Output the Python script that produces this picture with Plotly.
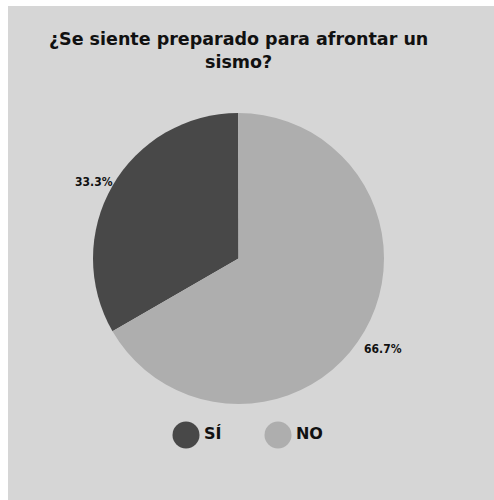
import math
import plotly.graph_objects as go

# Survey answers and their shares
categories = ["SÍ", "NO"]
shares = [33.3, 66.7]
slice_colors = ["#484848", "#aeaeae"]

title_text = "¿Se siente preparado para afrontar un<br>sismo?"

W, H = 494, 500
bg = "#d6d6d6"

# pie geometry in pixels
pie_left, pie_right, pie_top, pie_bottom = 93, 384, 113, 404
cx = (pie_left + pie_right) / 2
cy = (pie_top + pie_bottom) / 2
radius = (pie_right - pie_left) / 2
label_gap = 22

fig = go.Figure()

fig.add_trace(go.Pie(
    labels=categories,
    values=shares,
    sort=False,
    direction="counterclockwise",
    rotation=-120,
    marker=dict(colors=slice_colors, line=dict(width=0)),
    textinfo="none",
    domain=dict(x=[pie_left / W, pie_right / W], y=[1 - pie_bottom / H, 1 - pie_top / H]),
    showlegend=False,
    hoverinfo="label+percent",
))

# Percentage labels placed radially outside each slice's mid-angle
annotations = []
total = sum(shares)
cum = 0.0
for val in shares:
    mid = (cum + val / 2) / total * 2 * math.pi  # counterclockwise from 12 o'clock
    cum += val
    d = radius + label_gap
    px = cx - d * math.sin(mid)
    py = cy - d * math.cos(mid)
    annotations.append(dict(
        x=px / W, y=1 - py / H, xref="paper", yref="paper",
        text=f"{val:.1f}%", showarrow=False,
        xanchor="center", yanchor="middle", yshift=-7,
        font=dict(family="Liberation Sans Narrow, DejaVu Sans Condensed, sans-serif",
                  size=12, color="#111111", weight="bold"),
    ))

# Custom legend: large circular swatches with bold labels
legend_y = [0.5, 0.5]
fig.add_trace(go.Scatter(
    x=categories,
    y=legend_y,
    mode="markers+text",
    marker=dict(size=27, color=slice_colors, symbol="circle"),
    text=categories,
    textposition="middle right",
    textfont=dict(family="DejaVu Sans, sans-serif", size=16, color="#111111", weight="bold"),
    showlegend=False,
    hoverinfo="skip",
    cliponaxis=False,
))

fig.update_layout(
    width=W,
    height=H,
    margin=dict(l=0, r=0, t=0, b=0),
    paper_bgcolor=bg,
    plot_bgcolor="rgba(0,0,0,0)",
    title=dict(
        text=title_text,
        x=0.483,
        xanchor="center",
        y=1 - 45 / H,
        yanchor="top",
        font=dict(family="DejaVu Sans, sans-serif", size=17.5, color="#111111", weight="bold"),
    ),
    annotations=annotations,
    xaxis=dict(
        visible=False,
        type="category",
        range=[-186 / 92, (W - 186) / 92],
        domain=[0, 1],
        fixedrange=True,
    ),
    yaxis=dict(
        visible=False,
        range=[0, 1],
        domain=[1 - 452 / H, 1 - 418 / H],
        fixedrange=True,
    ),
    shapes=[
        # thin white frame strips along the top and left edges
        dict(type="rect", xref="paper", yref="paper", x0=0, x1=1, y0=1 - 6 / H, y1=1,
             fillcolor="white", line=dict(width=0), layer="above"),
        dict(type="rect", xref="paper", yref="paper", x0=0, x1=8 / W, y0=0, y1=1,
             fillcolor="white", line=dict(width=0), layer="above"),
    ],
)

fig.write_html("out.html")
